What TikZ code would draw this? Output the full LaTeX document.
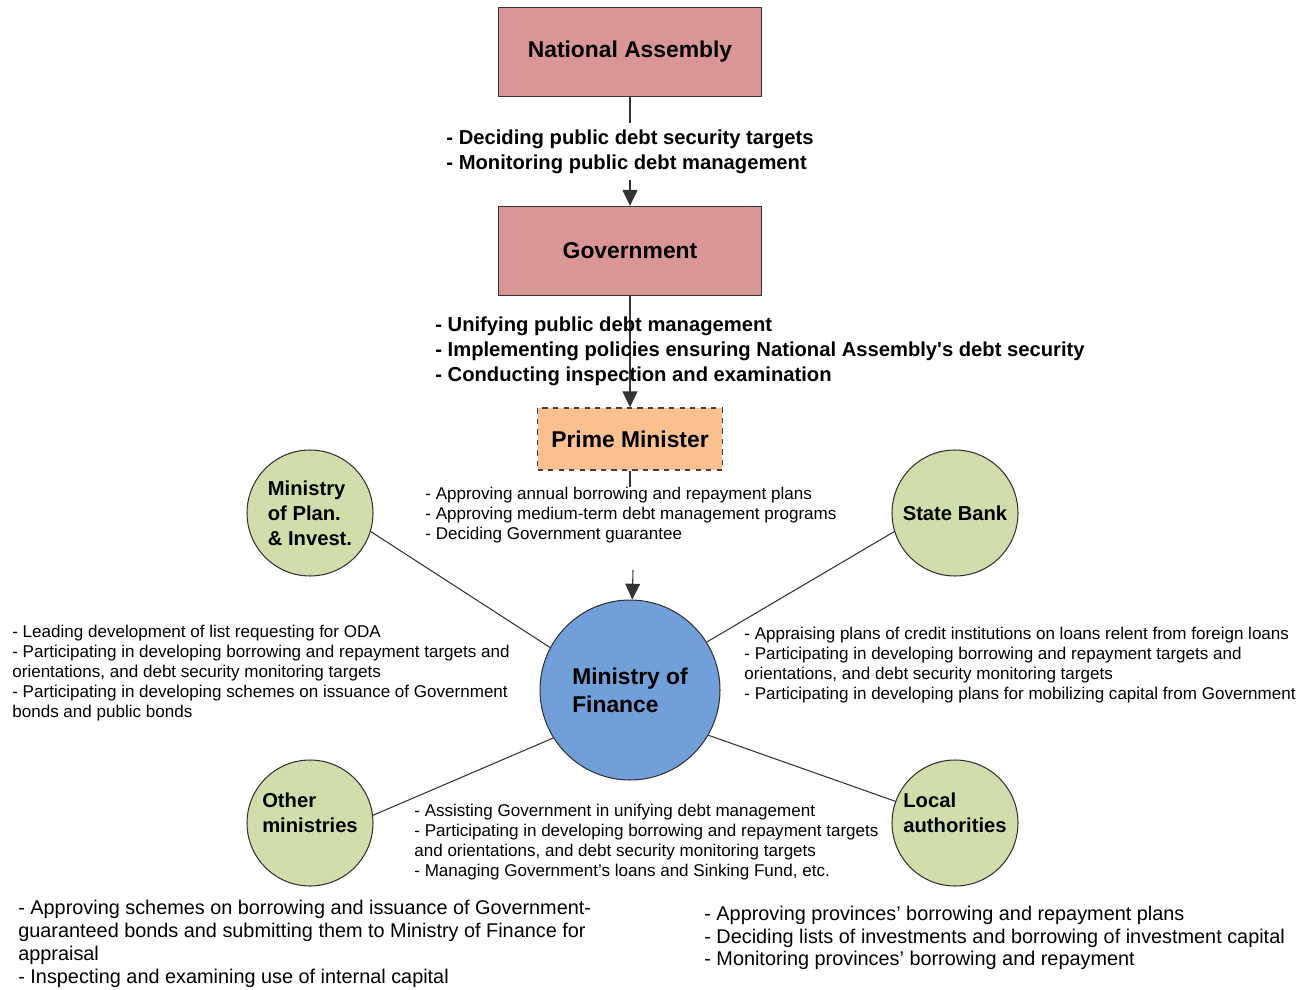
\documentclass[tikz,border=0pt]{standalone}
\usepackage{fontspec}
\setmainfont{Liberation Sans}
\usetikzlibrary{arrows.meta}

\definecolor{boxpink}{RGB}{217,150,148}
\definecolor{pmorange}{RGB}{250,192,144}
\definecolor{mofblue}{RGB}{112,159,218}
\definecolor{orggreen}{RGB}{209,222,172}

\begin{document}
\begin{tikzpicture}[x=0.02cm,y=-0.02cm,
    box/.style={draw=black!80,line width=0.8pt,fill=boxpink,minimum width=5.26cm,minimum height=1.78cm,inner sep=0pt,font=\fontsize{13}{16}\selectfont\bfseries},
    pmbox/.style={draw=black!75,line width=0.9pt,dashed,fill=pmorange,minimum width=3.7cm,minimum height=1.24cm,inner sep=0pt,font=\fontsize{13}{16}\selectfont\bfseries},
    mofcirc/.style={circle,draw=black!80,line width=0.6pt,fill=mofblue,minimum size=3.6cm,inner sep=0pt,align=left,font=\fontsize{13}{15.9}\selectfont\bfseries},
    orgcirc/.style={circle,draw=black!80,line width=0.6pt,fill=orggreen,minimum size=2.52cm,inner sep=0pt,align=left,font=\fontsize{11.5}{14.2}\selectfont\bfseries},
    biglbl/.style={align=left,inner sep=0pt,font=\fontsize{11.5}{14.2}\selectfont\bfseries},
    smalltxt/.style={align=left,inner sep=0pt,font=\fontsize{9.7}{11.3}\selectfont},
    midtxt/.style={align=left,inner sep=0pt,font=\fontsize{11.3}{13}\selectfont},
    arr/.style={draw=black!80,line width=0.6pt,-{Triangle[width=8.5pt,length=9pt]}},
    conn/.style={draw=black!80,line width=0.6pt}]
  \useasboundingbox (0,0) rectangle (1309,990);

  % boxes of the chain
  \node[box] (na) at (630,52) {National Assembly};
  \node[box] (gov) at (630,251) {Government};
  \node[pmbox] (pm) at (630,439) {Prime Minister};

  % centre and the ministries round it
  \node[mofcirc] (mof) at (630,690) {Ministry of\\Finance};
  \node[orgcirc] (mpi) at (310,513) {Ministry\\of Plan.\\\& Invest.};
  \node[orgcirc] (sbank) at (955,513) {State Bank};
  \node[orgcirc,text depth=12pt] (othmin) at (310,823) {Other\\ministries};
  \node[orgcirc,text depth=12pt] (locauth) at (955,823) {Local\\authorities};

  % chain connectors
  \draw[arr] (na) -- (gov) node[midway,fill=white,biglbl,inner ysep=4pt] (nalbl) {- Deciding public debt security targets\\- Monitoring public debt management};
  \draw[arr] (gov) -- (pm);
  \node[biglbl,anchor=west] (govlbl) at (435,351) {- Unifying public debt management\\- Implementing policies ensuring National Assembly\textquotesingle s debt security\\- Conducting inspection and examination};
  \node[smalltxt,anchor=west] (pmlbl) at (425,515) {- Approving annual borrowing and repayment plans\\- Approving medium-term debt management programs\\- Deciding Government guarantee};
  \coordinate (pmgap) at (633,570);
  \draw[conn] (pm) -- (pm.south |- pmlbl.north);
  \draw[arr] (pmgap) -- (mof);

  % spokes
  \draw[conn] (mof.152) -- (mpi.-17);
  \draw[conn] (mof.32) -- (sbank.197);
  \draw[conn] (mof.212) -- (othmin.7);
  \draw[conn] (mof.-30) -- (locauth.160);

  % task lists
  \node[smalltxt,anchor=west] (mpitxt) at (12,673) {- Leading development of list requesting for ODA\\- Participating in developing borrowing and repayment targets and\\orientations, and debt security monitoring targets\\- Participating in developing schemes on issuance of Government\\bonds and public bonds};
  \node[smalltxt,anchor=west] (sbanktxt) at (744,665) {- Appraising plans of credit institutions on loans relent from foreign loans\\- Participating in developing borrowing and repayment targets and\\orientations, and debt security monitoring targets\\- Participating in developing plans for mobilizing capital from Government};
  \node[smalltxt,anchor=west] (moftxt) at (414,842) {- Assisting Government in unifying debt management\\- Participating in developing borrowing and repayment targets\\and orientations, and debt security monitoring targets\\- Managing Government's loans and Sinking Fund, etc.};
  \node[midtxt,anchor=west] (othtxt) at (18,944) {- Approving schemes on borrowing and issuance of Government-\\guaranteed bonds and submitting them to Ministry of Finance for\\appraisal\\- Inspecting and examining use of internal capital};
  \node[midtxt,anchor=west] (loctxt) at (704,938) {- Approving provinces' borrowing and repayment plans\\- Deciding lists of investments and borrowing of investment capital\\- Monitoring provinces' borrowing and repayment};
\end{tikzpicture}
\end{document}
